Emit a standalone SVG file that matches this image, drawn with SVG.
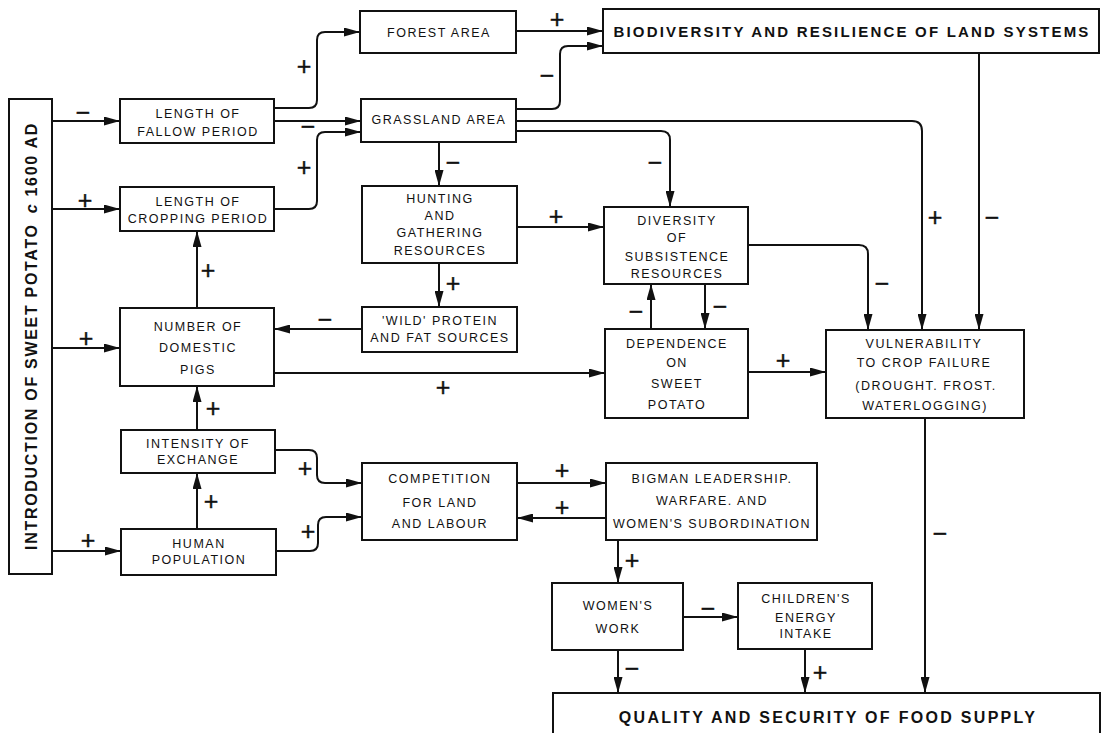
<svg xmlns="http://www.w3.org/2000/svg" width="1105" height="733" viewBox="0 0 1105 733">
<style>
.b{fill:#fff;stroke:#111;stroke-width:2}
.t{font-family:"Liberation Sans",Arial,sans-serif;font-size:12.5px;letter-spacing:1.5px;text-anchor:middle;fill:#111}
.h{font-family:"Liberation Sans",Arial,sans-serif;font-weight:bold;text-anchor:middle;fill:#111}
.c{fill:none;stroke:#111;stroke-width:2;marker-end:url(#a)}
.s{font-family:"Liberation Sans",Arial,sans-serif;font-size:25px;text-anchor:middle;dominant-baseline:central;fill:#111;stroke:#111;stroke-width:0.4}
</style>
<defs>
<marker id="a" markerWidth="16" markerHeight="9" refX="16" refY="4.5" orient="auto" markerUnits="userSpaceOnUse"><path d="M0,0 L16,4.5 L0,9 Z" fill="#111"/></marker>
</defs>
<rect width="1105" height="733" fill="#fff"/>

<g id="connectors">
<path class="c" d="M52,121 H120"/><text class="s" x="83" y="112">−</text>
<path class="c" d="M52,209 H120"/><text class="s" x="85" y="200">+</text>
<path class="c" d="M52,348 H120"/><text class="s" x="86" y="338">+</text>
<path class="c" d="M52,551 H121"/><text class="s" x="88" y="540">+</text>
<path class="c" d="M274,108 H309 Q317,108 317,100 V40 Q317,32 325,32 H360"/><text class="s" x="304" y="66">+</text>
<path class="c" d="M274,121 H361"/><text class="s" x="308" y="126">−</text>
<path class="c" d="M274,209 H309 Q317,209 317,201 V140 Q317,132 325,132 H361"/><text class="s" x="304" y="167">+</text>
<path class="c" d="M516,109 H552 Q560,109 560,101 V54 Q560,46 568,46 H603"/><text class="s" x="547" y="75">−</text>
<path class="c" d="M516,31 H603"/><text class="s" x="557" y="19">+</text>
<path class="c" d="M516,121 H912 Q922,121 922,131 V330"/><text class="s" x="935" y="217">+</text>
<path class="c" d="M516,131 H661 Q670,131 670,140 V207"/><text class="s" x="655" y="162">−</text>
<path class="c" d="M439,142 V186"/><text class="s" x="453" y="162">−</text>
<path class="c" d="M979,53 V330"/><text class="s" x="992" y="217">−</text>
<path class="c" d="M517,227 H604"/><text class="s" x="556" y="216">+</text>
<path class="c" d="M748,245 H859 Q868,245 868,254 V330"/><text class="s" x="882" y="283">−</text>
<path class="c" d="M439,263 V307"/><text class="s" x="453" y="283">+</text>
<path class="c" d="M362,329 H274"/><text class="s" x="325" y="319">−</text>
<path class="c" d="M197,308 V231"/><text class="s" x="208" y="270">+</text>
<path class="c" d="M274,373 H605"/><text class="s" x="443" y="387">+</text>
<path class="c" d="M651,329 V284"/><text class="s" x="636" y="311">−</text>
<path class="c" d="M705,284 V329"/><text class="s" x="720" y="306">−</text>
<path class="c" d="M748,372 H826"/><text class="s" x="783" y="360">+</text>
<path class="c" d="M925,418 V693"/><text class="s" x="940" y="533">−</text>
<path class="c" d="M197,430 V386"/><text class="s" x="213" y="408">+</text>
<path class="c" d="M275,450 H309 Q317,450 317,458 V475 Q317,483 325,483 H362"/><text class="s" x="305" y="468">+</text>
<path class="c" d="M197,529 V473"/><text class="s" x="211" y="501">+</text>
<path class="c" d="M276,551 H310 Q318,551 318,543 V525 Q318,517 326,517 H362"/><text class="s" x="308" y="531">+</text>
<path class="c" d="M517,483 H606"/><text class="s" x="562" y="470">+</text>
<path class="c" d="M606,518 H517"/><text class="s" x="562" y="507">+</text>
<path class="c" d="M618,540 V583"/><text class="s" x="632" y="560">+</text>
<path class="c" d="M683,617 H738"/><text class="s" x="708" y="608">−</text>
<path class="c" d="M618,650 V693"/><text class="s" x="632" y="668">−</text>
<path class="c" d="M805,649 V693"/><text class="s" x="820" y="672">+</text>
</g>

<g id="intro"><rect class="b" x="9" y="99" width="43" height="475"/>
<text class="h" transform="translate(37,336) rotate(-90)" style="font-size:16px;letter-spacing:1.7px">INTRODUCTION OF SWEET POTATO<tspan font-style="italic" dx="10">c</tspan> 1600 AD</text></g>

<g id="fallow"><rect class="b" x="120" y="99" width="154" height="44"/>
<text class="t" x="198" y="117.5">LENGTH OF</text><text class="t" x="198" y="135.5">FALLOW PERIOD</text></g>

<g id="cropping"><rect class="b" x="120" y="187" width="154" height="44"/>
<text class="t" x="198" y="205.5">LENGTH OF</text><text class="t" x="198" y="222.5">CROPPING PERIOD</text></g>

<g id="forest"><rect class="b" x="360" y="11" width="156" height="42"/>
<text class="t" x="439" y="36.5">FOREST AREA</text></g>

<g id="grassland"><rect class="b" x="361" y="99" width="155" height="43"/>
<text class="t" x="439" y="123.5">GRASSLAND AREA</text></g>

<g id="biodiversity"><rect class="b" x="603" y="9" width="496" height="44"/>
<text class="h" x="852" y="36.5" style="font-size:15px;letter-spacing:2.2px">BIODIVERSITY AND RESILIENCE OF LAND SYSTEMS</text></g>

<g id="hunting"><rect class="b" x="362" y="186" width="155" height="77"/>
<text class="t" x="440" y="202.5">HUNTING</text><text class="t" x="440" y="219.5">AND</text><text class="t" x="440" y="236.5">GATHERING</text><text class="t" x="440" y="255">RESOURCES</text></g>

<g id="diversity"><rect class="b" x="604" y="207" width="144" height="77"/>
<text class="t" x="677" y="224.5">DIVERSITY</text><text class="t" x="677" y="241.5">OF</text><text class="t" x="677" y="260.5">SUBSISTENCE</text><text class="t" x="677" y="277.5">RESOURCES</text></g>

<g id="wild"><rect class="b" x="362" y="307" width="155" height="45"/>
<text class="t" x="440" y="324.5">'WILD' PROTEIN</text><text class="t" x="440" y="341.5">AND FAT SOURCES</text></g>

<g id="pigs"><rect class="b" x="120" y="308" width="154" height="78"/>
<text class="t" x="198" y="330.5">NUMBER OF</text><text class="t" x="198" y="351.5">DOMESTIC</text><text class="t" x="198" y="373.5">PIGS</text></g>

<g id="dependence"><rect class="b" x="605" y="329" width="143" height="89"/>
<text class="t" x="677" y="347.5">DEPENDENCE</text><text class="t" x="677" y="366.5">ON</text><text class="t" x="677" y="387.5">SWEET</text><text class="t" x="677" y="408.5">POTATO</text></g>

<g id="vulnerability"><rect class="b" x="826" y="330" width="198" height="88"/>
<text class="t" x="924" y="347.5">VULNERABILITY</text><text class="t" x="924" y="366.5">TO CROP FAILURE</text><text class="t" x="926" y="389.5">(DROUGHT. FROST.</text><text class="t" x="925" y="409.5">WATERLOGGING)</text></g>

<g id="intensity"><rect class="b" x="121" y="430" width="154" height="43"/>
<text class="t" x="198" y="447.5">INTENSITY OF</text><text class="t" x="198" y="463.5">EXCHANGE</text></g>

<g id="human"><rect class="b" x="121" y="529" width="155" height="46"/>
<text class="t" x="199" y="547.5">HUMAN</text><text class="t" x="199" y="563.5">POPULATION</text></g>

<g id="competition"><rect class="b" x="362" y="463" width="155" height="77"/>
<text class="t" x="440" y="482.5">COMPETITION</text><text class="t" x="440" y="506.5">FOR  LAND</text><text class="t" x="440" y="527.5">AND LABOUR</text></g>

<g id="bigman"><rect class="b" x="606" y="463" width="211" height="77"/>
<text class="t" x="712" y="482.5">BIGMAN LEADERSHIP.</text><text class="t" x="712" y="504.5">WARFARE. AND</text><text class="t" x="712" y="527.5">WOMEN'S SUBORDINATION</text></g>

<g id="womenswork"><rect class="b" x="552" y="583" width="131" height="67"/>
<text class="t" x="618" y="609.5">WOMEN'S</text><text class="t" x="618" y="632.5">WORK</text></g>

<g id="children"><rect class="b" x="738" y="583" width="134" height="66"/>
<text class="t" x="806" y="602.5">CHILDREN'S</text><text class="t" x="806" y="621.5">ENERGY</text><text class="t" x="806" y="637.5">INTAKE</text></g>

<g id="quality"><rect class="b" x="553" y="693" width="547" height="50"/>
<text class="h" x="828" y="723" style="font-size:16px;letter-spacing:2.3px">QUALITY AND SECURITY OF FOOD SUPPLY</text></g>
</svg>
